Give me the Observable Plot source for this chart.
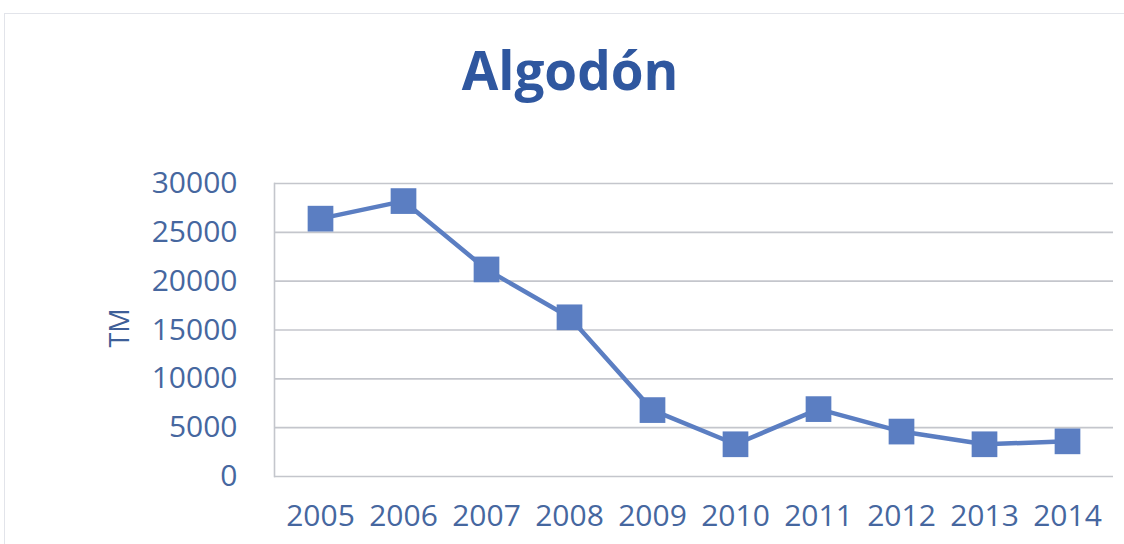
<!DOCTYPE html>
<html>
<head>
<meta charset="utf-8">
<script src="https://cdn.jsdelivr.net/npm/d3@7"></script>
<script src="https://cdn.jsdelivr.net/npm/@observablehq/plot@0.6"></script>
<style>
  body { margin: 0; background: #fff; }
  #wrap { position: relative; width: 1124px; height: 544px; overflow: hidden; font-family: "Open Sans", sans-serif; }
  #border { position: absolute; left: 4px; top: 13px; width: 1140px; height: 560px; border: 1.5px solid #e2e4ea; box-sizing: border-box; }
  #title { position: absolute; left: 0; width: 1140px; top: 43px; text-align: center; font-size: 53px; font-weight: 700; color: #2f579f; line-height: 1; }
  #ylabel { position: absolute; left: 118px; top: 328px; transform: translate(-50%, -50%) rotate(-90deg); font-size: 27px; color: #3e5f98; white-space: nowrap; }
  #chart { position: absolute; left: 0; top: 0; }
</style>
</head>
<body>
<div id="wrap">
  <div id="border"></div>
  <div id="title">Algodón</div>
  <div id="ylabel">TM</div>
  <div id="chart"></div>
</div>
<script>
const years = ["2005","2006","2007","2008","2009","2010","2011","2012","2013","2014"];
const values = [26400, 28200, 21200, 16300, 6800, 3300, 6900, 4600, 3300, 3600];
const yTicks = [0, 5000, 10000, 15000, 20000, 25000, 30000];

const data = years.map((y, i) => ({year: y, value: values[i]}));
const textColor = "#46679f";
const markColor = "#5b7ec2";

const chart = Plot.plot({
  width: 1124,
  height: 544,
  marginLeft: 274,
  marginRight: 11,
  marginTop: 183,
  marginBottom: 68,
  style: {fontFamily: "Open Sans, sans-serif", fontSize: "30px", background: "transparent", color: textColor},
  x: {type: "point", domain: years, padding: 0.5},
  y: {domain: [0, 30000]},
  marks: [
    Plot.gridY(yTicks, {stroke: "#c4c6cc", strokeOpacity: 1, strokeWidth: 1.6}),
    Plot.frame({anchor: "left", stroke: "#c4c6cc", strokeWidth: 1.6}),
    Plot.axisY(yTicks, {tickSize: 0, tickPadding: 37, label: null, fill: textColor, tickFormat: d => String(d)}),
    Plot.axisX({tickSize: 0, tickPadding: 28, label: null, fill: textColor}),
    Plot.line(data, {x: "year", y: "value", stroke: markColor, strokeWidth: 4.5}),
    Plot.dot(data, {x: "year", y: "value", symbol: "square", r: 14.5, fill: markColor, stroke: "none"})
  ]
});
document.getElementById("chart").appendChild(chart);
</script>
</body>
</html>
